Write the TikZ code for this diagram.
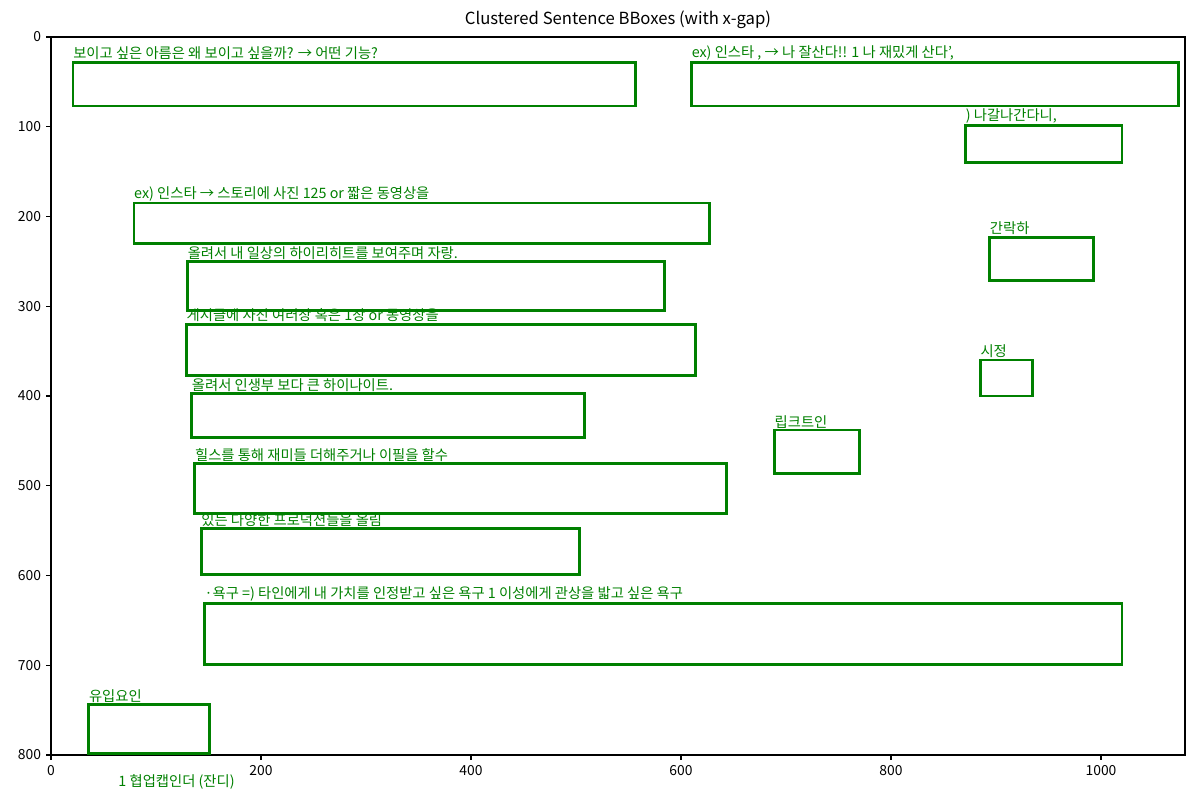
\documentclass[tikz,border=0pt]{standalone}
\usepackage{fontspec}
\setmainfont{Noto Sans CJK KR}
\begin{document}
\begin{tikzpicture}[x=0.756pt, y=-0.6462pt,
  bbox/.style={draw=green!50!black, line width=2pt},
  lbl/.style={anchor=south west, inner sep=0pt, text=green!50!black, font=\fontsize{10.3}{12}\selectfont},
  ticklbl/.style={inner sep=0pt, font=\fontsize{10}{12}\selectfont}]
\useasboundingbox (-48.571,-41.226) rectangle (1094.286,850.139);
% Axes
\draw[line width=0.8pt] (0,0) rectangle (1080,800);
\foreach \x in {0,200,...,1000} {
  \draw[line width=0.8pt] (\x,800) -- ++(0,-3.5pt);
  \node[ticklbl, anchor=north, yshift=-7pt] (xt\x) at (\x,800) {\x};
}
\foreach \y in {0,100,...,800} {
  \draw[line width=0.8pt] (0,\y) -- ++(-3.5pt,0);
  \node[ticklbl, anchor=east, xshift=-7pt] (yt\y) at (0,\y) {\y};
}
\node[anchor=south, inner sep=0pt, yshift=6pt, font=\fontsize{12}{14}\selectfont] (title) at (540,0) {Clustered Sentence BBoxes (with x-gap)};
% Sentence boxes
\draw[bbox] (21,28) rectangle (557,77);
\node[lbl] (s1) at (21,26) {보이고 싶은 아름은 왜 보이고 싶을까? → 어떤 기능?};
\draw[bbox] (610,28) rectangle (1074,77);
\node[lbl] (s2) at (610,26) {ex) 인스타 , → 나 잘산다!! 1 나 재밌게 산다',};
\draw[bbox] (871,99) rectangle (1020,140);
\node[lbl] (s3) at (871,97) {) 나갈나간다니,};
\draw[bbox] (79,185) rectangle (627,230);
\node[lbl] (s4) at (79,183) {ex) 인스타 → 스토리에 사진 125 or 짧은 동영상을};
\draw[bbox] (894,223) rectangle (993,271);
\node[lbl] (s5) at (894,221) {간락하};
\draw[bbox] (130,250) rectangle (584,305);
\node[lbl] (s6) at (130,248) {올려서 내 일상의 하이리히트를 보여주며 자랑.};
\draw[bbox] (129,320) rectangle (614,377);
\node[lbl] (s7) at (129,318) {게시글에 사진 여러장 혹은 1장 or 동영상을};
\draw[bbox] (885,360) rectangle (935,400);
\node[lbl] (s8) at (885,358) {시정};
\draw[bbox] (134,397) rectangle (508,446);
\node[lbl] (s9) at (134,395) {올려서 인생부 보다 큰 하이나이트.};
\draw[bbox] (689,438) rectangle (770,486);
\node[lbl] (s10) at (689,436) {립크트인};
\draw[bbox] (137,475) rectangle (643,531);
\node[lbl] (s11) at (137,473) {힐스를 통해 재미들 더해주거나 이필을 할수};
\draw[bbox] (143,548) rectangle (503,599);
\node[lbl] (s12) at (143,546) {있는 다양한 프로덕션들을 올림};
\draw[bbox] (146,631) rectangle (1020,699);
\node[lbl] (s13) at (146,629) {·욕구 =) 타인에게 내 가치를 인정받고 싶은 욕구 1 이성에게 관상을 밟고 싶은 욕구};
\draw[bbox] (36,744) rectangle (151,798);
\node[lbl] (s14) at (36,742) {유입요인};
\node[lbl] (s15) at (64,838) {1 협업캡인더 (잔디)};
\end{tikzpicture}
\end{document}
